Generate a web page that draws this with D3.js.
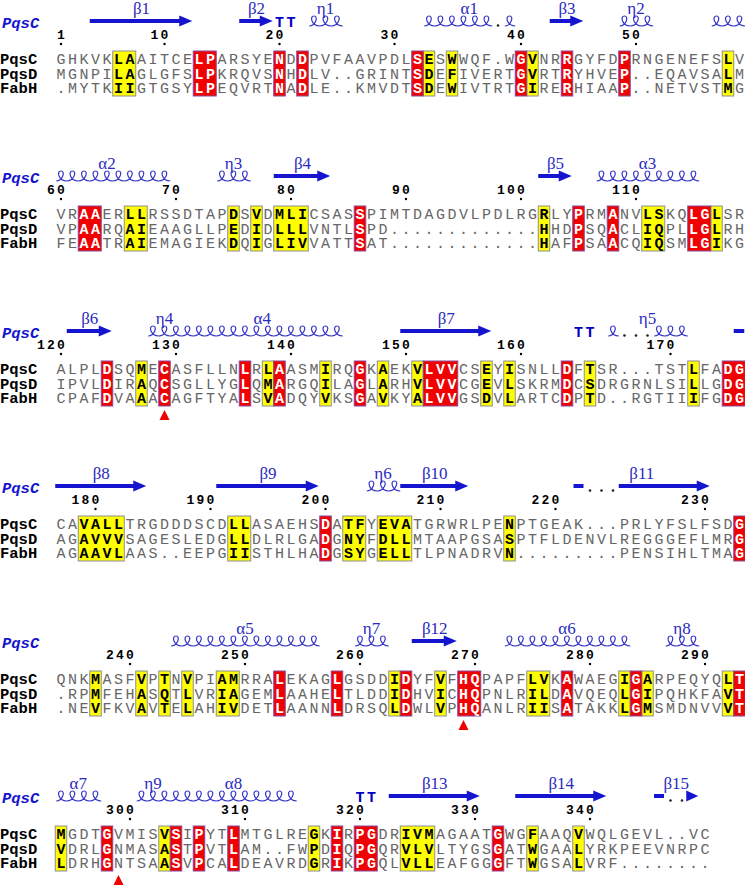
<!DOCTYPE html>
<html><head><meta charset="utf-8">
<script src="https://cdn.jsdelivr.net/npm/d3@7"></script>
<style>body{margin:0;background:#fff}svg{display:block}</style>
</head><body>
<svg id="chart" width="745" height="887"></svg>
<script>
// ---------------- data ----------------
const seqNames = ["PqsC", "PqsD", "FabH"];
const refName = "PqsC";

const seqPqsC = [
  "GHKVKLAAITCELPARSYENDDPVFAAVPDLSESWWQF.WGVNRRGYFDPRNGENEFSLV",
  "VRAAERLLRSSDTAPDSVDMLICSASSPIMTDAGDVLPDLRGRLYPRMANVLSKQLGLSR",
  "ALPLDSQMECASFLLNLRLAASMIRQGKAEKVLVVCSEYISNLLDFTSR...TSTLFADG",
  "CAVALLTRGDDDSCDLLASAEHSDATFYEVATGRWRLPENPTGEAK...PRLYFSLFSDG",
  "QNKMASFVPTNVPIAMRRALEKAGLGSDDIDYFVFHQPAPFLVKAWAEGIGARPEQYQLT",
  "MGDTGVMISVSIPYTLMTGLREGKIRPGDRIVMAGAATGWGFAAQVWQLGEVL..VC"
];
const seqPqsD = [
  "MGNPILAGLGFSLPKRQVSNHDLV..GRINTSDEFIVERTGVRTRYHVEP..EQAVSALM",
  "VPAARQAIEAAGLLPEDIDLLLVNTLSPD.............HHDPSQACLIQPLLGLRH",
  "IPVLDIRAQCSGLLYGLQMARGQILAGLARHVLVVCGEVLSKRMDCSDRGRNLSILLGDG",
  "AGAVVVSAGESLEDGLLDLRLGADGNYFDLLMTAAPGSASPTFLDENVLREGGGEFLMRG",
  ".RPMFEHASQTLVRIAGEMLAAHELTLDDIDHVICHQPNLRILDAVQEQLGIPQHKFAVT",
  "VDRLGNMASASTPVTLAM..FWPDIQPGQRVLVLTYGSGATWGAALYRKPEEVNRPC"
];
const seqFabH = [
  ".MYTKIIGTGSYLPEQVRTNADLE..KMVDTSDEWIVTRTGIRERHIAAP..NETVSTMG",
  "FEAATRAIEMAGIEKDQIGLIVVATTSAT.............HAFPSAACQIQSMLGIKG",
  "CPAFDVAAACAGFTYALSVADQYVKSGAVKYALVVGSDVLARTCDPTD..RGTIIIFGDG",
  "AGAAVLAAS..EEPGIISTHLHADGSYGELLTLPNADRVN.........PENSIHLTMAG",
  ".NEVFKVAVTELAHIVDETLAANNLDRSQLDWLVPHQANLRIISATAKKLGMSMDNVVVT",
  "LDRHGNTSAASVPCALDEAVRDGRIKPGQLVLLEAFGGGFTWGSALVRF........"
];

// strictly conserved columns (red) and similar columns (yellow), per block
const redCols = [
  [13,14,20,22,32,41,45,50],
  [3,4,27,46,49,56,57],
  [5,10,17,20,27,33,34,35,45,59,60],
  [24,60],
  [20,25,31,36,37,45,51,60],
  [5,11,13,16,25,27,28,39]
];
const yellowCols = [
  [6,7,33,35,42,59],
  [7,8,16,18,20,21,22,43,52,53,58],
  [8,19,24,29,32,38,40,47,56],
  [3,4,5,6,16,17,26,27,29,30,31,40],
  [4,8,10,12,15,16,30,34,42,43,50,52,59],
  [1,10,23,31,32,33,42,46]
];

// secondary structure of PqsC: [block, startCol, endCol, arrowHead]
const strands = [
  [0,4,12,true],[0,17,19,true],[0,44,46,true],
  [1,20,24,true],[1,43,45,true],
  [2,2,5,true],[2,31,38,true],[2,60,60,false],
  [3,1,8,true],[3,15,23,true],[3,31,36,true],[3,46,46,false],[3,50,57,true],
  [4,32,35,true],
  [5,30,37,true],[5,41,48,true],[5,53,53,false],[5,56,56,true]
];
// helices: [block, startCol, endCol]
const helices = [
  [0,23,25],[0,33,38],[0,40,40],[0,50,52],[0,58,60],
  [1,1,10],[1,15,17],[1,48,56],
  [2,9,25],[2,49,49],[2,53,55],
  [3,28,30],
  [4,11,23],[4,27,29],[4,40,50],[4,54,56],
  [5,1,4],[5,8,21]
];
// gap dots inside secondary-structure elements: [block, col]
const ssGaps = [[0,39],[2,50],[2,51],[2,52],[3,47],[3,48],[3,49],[5,54],[5,55]];
// turns: [block, startCol, endCol]
const turns = [[0,20,21],[2,46,47],[5,27,28]];
// element labels: [block, text, startCol, endCol]
const ssLabels = [
  [0,"β1",4,12],[0,"β2",17,19],[0,"η1",23,25],[0,"α1",33,40],[0,"β3",44,46],[0,"η2",50,52],
  [1,"α2",1,9],[1,"η3",15,17],[1,"β4",20,24],[1,"β5",43,45],[1,"α3",48,56],
  [2,"β6",2,5],[2,"η4",9,11],[2,"α4",12,25],[2,"β7",31,38],[2,"η5",49,55],
  [3,"β8",1,8],[3,"β9",15,23],[3,"η6",28,30],[3,"β10",31,36],[3,"β11",46,57],
  [4,"α5",11,23],[4,"η7",27,29],[4,"β12",32,35],[4,"α6",40,50],[4,"η8",54,56],
  [5,"α7",1,4],[5,"η9",8,10],[5,"α8",11,21],[5,"β13",30,37],[5,"β14",41,48],[5,"β15",53,56]
];
// catalytic residues marked with triangles: [block, col]
const activeSite = [[2,10],[4,36],[5,6]];

// ---------------- drawing ----------------
const svg = d3.select("#chart");
const x = d3.scaleLinear().domain([1, 60]).range([61, 739.5]);
const colW = x(2) - x(1);
const blockTop = d3.scaleLinear().domain([0, 5]).range([0, 775]);
const rowY = d3.scaleLinear().domain([0, 2]).range([59, 88]);
const seqs = [seqPqsC, seqPqsD, seqFabH];
const MONO = "'Liberation Mono', 'DejaVu Sans Mono', monospace";
const SERIF = "'Liberation Serif', 'DejaVu Serif', serif";
const BLUE = "#1515d0";
const RED = "#f00000";
const YEL = "#ffff00";

const SS_Y = 21, COIL_B = 26, COIL_H = 10;

let residue = 1;
seqPqsC.forEach((s, b) => {
  const g = svg.append("g").attr("transform", `translate(0,${blockTop(b)})`);
  const red = new Set(redCols[b]), yel = new Set(yellowCols[b]);

  // boxes (contiguous runs)
  function runs(cols) {
    const sorted = cols.slice().sort((a, b) => a - b), out = [];
    sorted.forEach(c => {
      const last = out[out.length - 1];
      if (last && last[1] === c - 1) last[1] = c; else out.push([c, c]);
    });
    return out;
  }
  const boxTop = rowY(0) - 8, boxBot = rowY(2) + 8;
  runs(yellowCols[b]).forEach(([a, e]) => {
    g.append("rect").attr("x", x(a) - colW / 2).attr("y", boxTop)
      .attr("width", (e - a + 1) * colW).attr("height", boxBot - boxTop)
      .attr("fill", YEL).attr("stroke", "#8c8c9c").attr("stroke-width", 1);
  });
  runs(redCols[b]).forEach(([a, e]) => {
    g.append("rect").attr("x", x(a) - colW / 2).attr("y", boxTop)
      .attr("width", (e - a + 1) * colW).attr("height", boxBot - boxTop)
      .attr("fill", RED).attr("stroke", "#8a4a9a").attr("stroke-width", 1);
  });

  // sequence names
  seqNames.forEach((n, i) => {
    g.append("text").attr("x", 0).attr("y", rowY(i) + 5)
      .attr("font-family", MONO).attr("font-weight", "bold").attr("font-size", 15.5)
      .attr("fill", "#000").text(n);
  });

  // residues
  seqs.forEach((rows, i) => {
    const str = rows[b];
    for (let k = 0; k < str.length; k++) {
      const c = k + 1, ch = str[k];
      const isR = red.has(c), isY = yel.has(c);
      g.append("text").attr("x", x(c)).attr("y", rowY(i) + 5)
        .attr("text-anchor", "middle").attr("font-family", MONO)
        .attr("font-size", 15)
        .attr("font-weight", (isR || isY) ? "bold" : "normal")
        .attr("fill", isR ? "#fff" : isY ? "#000" : "#666")
        .text(ch);
    }
  });

  // numbering of reference sequence
  for (let k = 0; k < s.length; k++) {
    if (s[k] === ".") continue;
    const r = residue++;
    if (r === 1 || r % 10 === 0) {
      const c = k + 1, digits = String(r).split("");
      digits.forEach((d, di) => {
        g.append("text").attr("x", x(c) - (digits.length - 1 - di) * 10).attr("y", 39)
          .attr("text-anchor", "middle").attr("font-family", MONO)
          .attr("font-weight", "bold").attr("font-size", 13).attr("fill", "#000").text(d);
      });
      g.append("circle").attr("cx", x(c)).attr("cy", 44).attr("r", 1.2).attr("fill", "#000");
    }
  }

  // reference name for secondary structure
  g.append("text").attr("x", 2).attr("y", 28)
    .attr("font-family", MONO).attr("font-weight", "bold").attr("font-style", "italic")
    .attr("font-size", 15.5).attr("fill", BLUE).text(refName);
});

// secondary-structure elements
strands.forEach(([b, s, e, head]) => {
  const T = blockTop(b), y = T + SS_Y;
  const xl = x(s) - colW / 2, xr = Math.min(x(e) + colW / 2 - 1, 745);
  let pts;
  if (head) {
    const xh = Math.max(xr - 13, xl);
    if (xh - xl < 1) {
      pts = [[xr - 12, y - 5.5], [xr, y], [xr - 12, y + 5.5]];
    } else {
      pts = [[xl, y - 2], [xh, y - 2], [xh, y - 5.5], [xr, y], [xh, y + 5.5], [xh, y + 2], [xl, y + 2]];
    }
  } else {
    const a = (s === e && e < 60) ? x(s) - 5 : xl;
    const z = (s === e && e < 60) ? x(s) + 5 : xr;
    pts = [[a, y - 2], [z, y - 2], [z, y + 2], [a, y + 2]];
  }
  svg.append("path").attr("d", d3.line()(pts) + "Z").attr("fill", BLUE);
});

helices.forEach(([b, s, e]) => {
  const T = blockTop(b), yb = T + COIL_B, yt = yb - COIL_H;
  let p = "";
  for (let c = s; c <= e; c++) {
    const x0 = x(c) - colW / 2, w = colW;
    if (c === s) p += `M${x0 + 1},${yb}`;
    p += `C${x0 + 0.62 * w},${yb} ${x0 + 0.92 * w},${yt} ${x0 + 0.5 * w},${yt}`;
    p += `C${x0 + 0.08 * w},${yt} ${x0 + 0.3 * w},${yb} ${x0 + w},${yb}`;
  }
  svg.append("path").attr("d", p).attr("fill", "none")
    .attr("stroke", "#3535c8").attr("stroke-width", 1.2);
});

ssGaps.forEach(([b, c]) => {
  svg.append("circle").attr("cx", x(c)).attr("cy", blockTop(b) + COIL_B - 0.5)
    .attr("r", 1.3).attr("fill", "#222");
});

turns.forEach(([b, s, e]) => {
  for (let c = s; c <= e; c++) {
    svg.append("text").attr("x", x(c)).attr("y", blockTop(b) + 27)
      .attr("text-anchor", "middle").attr("font-family", MONO)
      .attr("font-weight", "bold").attr("font-size", 15).attr("fill", "#0000c0").text("T");
  }
});

ssLabels.forEach(([b, t, s, e]) => {
  svg.append("text").attr("x", (x(s) + x(e)) / 2).attr("y", blockTop(b) + 14)
    .attr("text-anchor", "middle").attr("font-family", SERIF)
    .attr("font-size", 17).attr("fill", "#2a2ac0").text(t);
});

activeSite.forEach(([b, c]) => {
  const T = blockTop(b), cx = x(c);
  svg.append("path").attr("d", `M${cx},${T + 100}L${cx + 5},${T + 110}L${cx - 5},${T + 110}Z`)
    .attr("fill", RED);
});
</script>
</body></html>
